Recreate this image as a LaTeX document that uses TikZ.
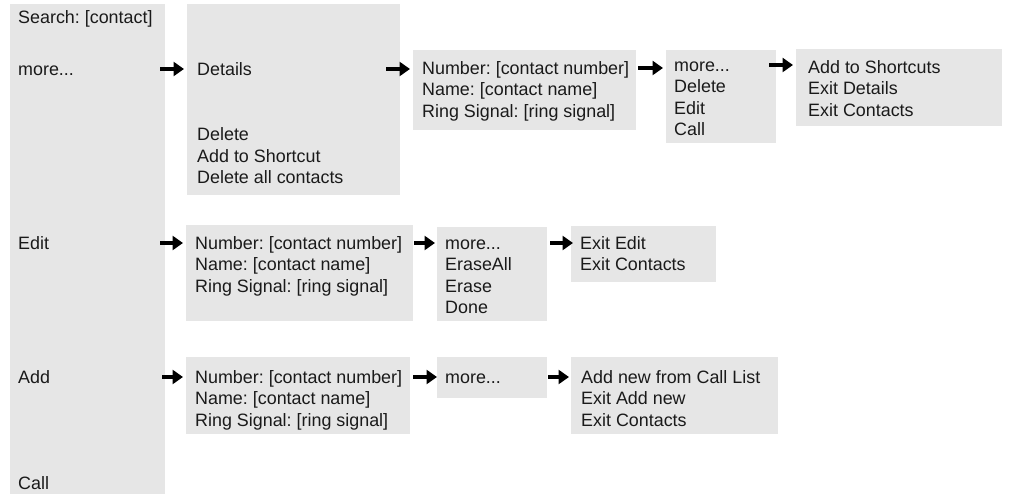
\documentclass[tikz,border=0pt]{standalone}
\usepackage{fontspec}
\setmainfont{Liberation Sans}
\usetikzlibrary{arrows.meta}
\definecolor{Panel}{HTML}{E6E6E6}
\definecolor{Ink}{HTML}{1A1A1A}
\frenchspacing

\begin{document}
\begin{tikzpicture}[x=1pt,y=-1pt,
  panel/.style={fill=Panel,inner sep=0pt,anchor=north west},
  entry/.style={anchor=west,inner sep=0pt,text height=12.6pt,text depth=0pt,text=Ink,font=\fontsize{17.9}{21}\selectfont},
  flow/.style={-{Triangle[length=10.5pt,width=14pt]},line width=3.8pt,draw=black}
]
\useasboundingbox (0,0) rectangle (1009,494);
% panels
\node[panel,minimum width=155pt,minimum height=490pt] (main) at (10,4) {};
\node[panel,minimum width=213pt,minimum height=191pt] (details) at (187,4) {};
\node[panel,minimum width=223pt,minimum height=80pt] (numA) at (413,50) {};
\node[panel,minimum width=110pt,minimum height=93pt] (moreA) at (666,50) {};
\node[panel,minimum width=206pt,minimum height=77pt] (exitA) at (796,49) {};
\node[panel,minimum width=227pt,minimum height=96pt] (numB) at (186,225) {};
\node[panel,minimum width=110pt,minimum height=94pt] (moreB) at (437,227) {};
\node[panel,minimum width=145pt,minimum height=56pt] (exitB) at (571,226) {};
\node[panel,minimum width=224pt,minimum height=77pt] (numC) at (186,357) {};
\node[panel,minimum width=110pt,minimum height=41pt] (moreC) at (437,357) {};
\node[panel,minimum width=207pt,minimum height=77pt] (exitC) at (571,357) {};

% contacts menu
\node[entry] (search) at (18,17) {Search: [contact]};
\node[entry] (mainMore) at (18,69) {more...};
\node[entry] (mainEdit) at (18,243) {Edit};
\node[entry] (mainAdd) at (18,377) {Add};
\node[entry] (mainCall) at (18,483) {Call};

% details
\node[entry] (det1) at (197,69) {Details};
\node[entry] (det2) at (197,134.5) {Delete};
\node[entry] (det3) at (197,156) {Add to Shortcut};
\node[entry] (det4) at (197,177.5) {Delete all contacts};

\node[entry] (numA1) at (422,68) {Number: [contact number]};
\node[entry] (numA2) at (422,89.5) {Name: [contact name]};
\node[entry] (numA3) at (422,111) {Ring Signal: [ring signal]};
\node[entry] (moreA1) at (674,65) {more...};
\node[entry] (moreA2) at (674,86.5) {Delete};
\node[entry] (moreA3) at (674,108) {Edit};
\node[entry] (moreA4) at (674,129.5) {Call};
\node[entry] (exitA1) at (808,67) {Add to Shortcuts};
\node[entry] (exitA2) at (808,88.5) {Exit Details};
\node[entry] (exitA3) at (808,110) {Exit Contacts};

% edit
\node[entry] (numB1) at (195,243) {Number: [contact number]};
\node[entry] (numB2) at (195,264.5) {Name: [contact name]};
\node[entry] (numB3) at (195,286) {Ring Signal: [ring signal]};
\node[entry] (moreB1) at (445,243) {more...};
\node[entry] (moreB2) at (445,264.5) {EraseAll};
\node[entry] (moreB3) at (445,286) {Erase};
\node[entry] (moreB4) at (445,307.5) {Done};
\node[entry] (exitB1) at (580,243) {Exit Edit};
\node[entry] (exitB2) at (580,264.5) {Exit Contacts};

% add
\node[entry] (numC1) at (195,377) {Number: [contact number]};
\node[entry] (numC2) at (195,398.5) {Name: [contact name]};
\node[entry] (numC3) at (195,420) {Ring Signal: [ring signal]};
\node[entry] (moreC1) at (445,377) {more...};
\node[entry] (exitC1) at (581,377) {Add new from Call List};
\node[entry] (exitC2) at (581,398.5) {Exit Add new};
\node[entry] (exitC3) at (581,420) {Exit Contacts};

% arrows
\draw[flow] ([xshift=-27pt]details.west |- det1) -- ([xshift=-3pt]details.west |- det1);
\draw[flow] ([xshift=-27pt]numA.west |- det1) -- ([xshift=-3pt]numA.west |- det1);
\draw[flow] ([xshift=-28pt]moreA.west |- numA1) -- ([xshift=-3pt]moreA.west |- numA1);
\draw[flow] ([xshift=-27pt]exitA.west |- moreA1) -- ([xshift=-3pt]exitA.west |- moreA1);
\draw[flow] ([xshift=-26pt]numB.west |- numB1) -- ([xshift=-3pt]numB.west |- numB1);
\draw[flow] ([xshift=-23pt]moreB.west |- moreB1) -- ([xshift=-2pt]moreB.west |- moreB1);
\draw[flow] ([xshift=-21pt]exitB.west |- exitB1) -- ([xshift=2pt]exitB.west |- exitB1);
\draw[flow] ([xshift=-24pt]numC.west |- numC1) -- ([xshift=-3pt]numC.west |- numC1);
\draw[flow] ([xshift=-24pt]moreC.west |- moreC1) -- ([xshift=0pt]moreC.west |- moreC1);
\draw[flow] ([xshift=-23pt]exitC.west |- exitC1) -- ([xshift=-2pt]exitC.west |- exitC1);
\end{tikzpicture}
\end{document}
